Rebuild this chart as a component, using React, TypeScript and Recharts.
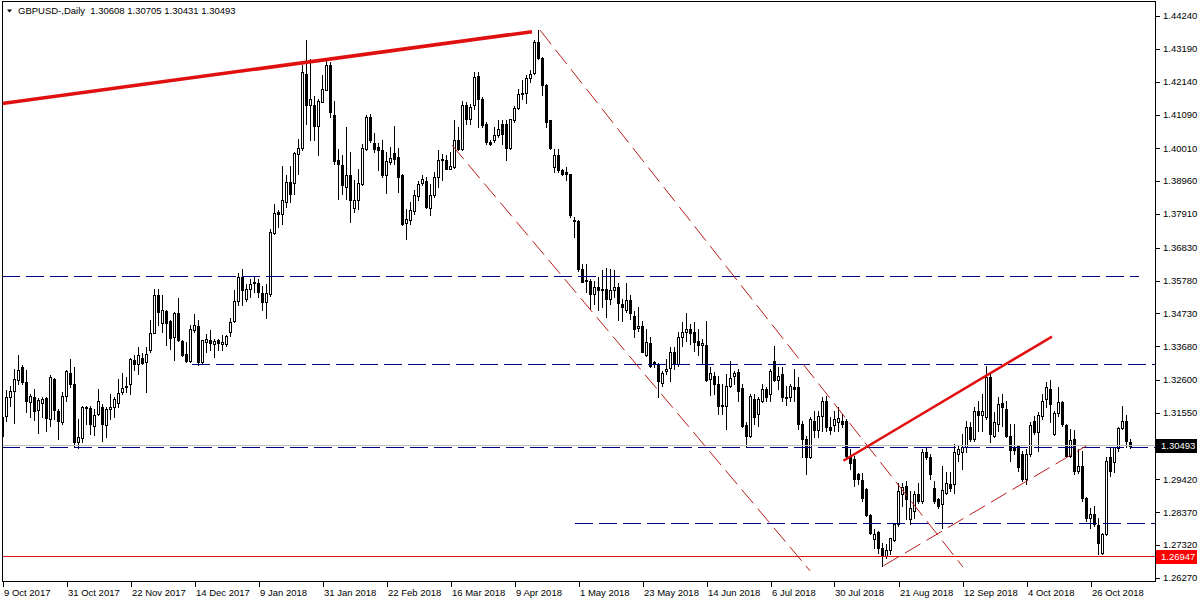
import React from 'react';
import { ComposedChart, Bar, XAxis, YAxis, ReferenceLine } from 'recharts';

// ---------- data ----------
const openPrices = [
  1.3082,1.3146,1.3205,1.3226,1.3261,1.3303,1.3255,1.3189,1.3207,1.3165,
  1.3186,1.3201,1.3136,1.3262,1.3162,1.3125,1.3209,1.3283,1.3248,1.3061,
  1.3074,1.3170,1.3171,1.3113,1.3150,1.3175,1.3116,1.3167,1.3175,1.3187,
  1.3221,1.3237,1.3248,1.3323,1.3312,1.3330,1.3317,1.3355,1.3411,1.3531,
  1.3443,1.3481,1.3449,1.3397,1.3475,1.3385,1.3344,1.3320,1.3419,1.3434,
  1.3317,1.3381,1.3389,1.3376,1.3389,1.3376,1.3374,1.3415,1.3449,1.3512,
  1.3590,1.3518,1.3552,1.3570,1.3571,1.3539,1.3509,1.3536,1.3730,1.3797,
  1.3792,1.3829,1.3893,1.3891,1.3984,1.4002,1.4237,1.4139,1.4141,1.4073,
  1.4150,1.4189,1.4267,1.4107,1.3963,1.3949,1.3877,1.3915,1.3811,1.3835,
  1.3888,1.4000,1.4102,1.4018,1.4005,1.3997,1.3915,1.3957,1.3987,1.3973,
  1.3915,1.3762,1.3773,1.3800,1.3848,1.3890,1.3896,1.3811,1.3851,1.3909,
  1.3966,1.3963,1.3936,1.3941,1.4027,1.3998,1.4141,1.4096,1.4141,1.4232,
  1.4158,1.4080,1.4020,1.4027,1.4045,1.4080,1.4080,1.4002,1.4091,1.4131,
  1.4179,1.4178,1.4227,1.4242,1.4342,1.4291,1.4203,1.4091,1.3941,1.3979,
  1.3933,1.3925,1.3918,1.3773,1.3769,1.3616,1.3581,1.3578,1.3536,1.3559,
  1.3550,1.3552,1.3520,1.3547,1.3559,1.3502,1.3485,1.3517,1.3466,1.3427,
  1.3434,1.3340,1.3379,1.3317,1.3312,1.3250,1.3290,1.3299,1.3349,1.3312,
  1.3397,1.3413,1.3424,1.3415,1.3384,1.3373,1.3373,1.3264,1.3273,1.3248,
  1.3181,1.3178,1.3242,1.3272,1.3287,1.3235,1.3117,1.3082,1.3200,1.3151,
  1.3194,1.3231,1.3215,1.3322,1.3260,1.3280,1.3205,1.3207,1.3239,1.3237,
  1.3119,1.3071,1.3015,1.3128,1.3100,1.3146,1.3194,1.3109,1.3117,1.3125,
  1.3130,1.3128,1.3015,1.3007,1.2959,1.2940,1.2911,1.2828,1.2751,1.2775,
  1.2724,1.2698,1.2717,1.2748,1.2799,1.2897,1.2922,1.2815,1.2842,1.2895,
  1.2874,1.3029,1.3015,1.2916,1.2879,1.2863,1.2900,1.2929,1.2929,1.3025,
  1.3029,1.3045,1.3111,1.3071,1.3162,1.3149,1.3141,1.3271,1.3082,1.3121,
  1.3186,1.3167,1.3082,1.3047,1.3050,1.3023,1.2943,1.3023,1.3130,1.3093,
  1.3146,1.3199,1.3231,1.3087,1.3154,1.3189,1.3117,1.3018,1.3071,1.2968,
  1.2986,1.2882,1.2820,1.2831,1.2797,1.2708,1.2767,1.3013,1.2997,1.3042,
  1.3106,1.3130,1.30608,
];
const highPrices = [
  1.3189,1.3229,1.3242,1.3296,1.3341,1.3307,1.3291,1.3216,1.3232,1.3201,
  1.3205,1.3205,1.3275,1.3266,1.3166,1.3221,1.3291,1.3326,1.3303,1.3136,
  1.3178,1.3178,1.3178,1.3168,1.3232,1.3184,1.3173,1.3216,1.3205,1.3264,
  1.3283,1.3269,1.3331,1.3339,1.3365,1.3346,1.3365,1.3451,1.3552,1.3552,
  1.3531,1.3483,1.3451,1.3477,1.3523,1.3387,1.3381,1.3435,1.3472,1.3451,
  1.3389,1.3408,1.3421,1.3392,1.3391,1.3403,1.3403,1.3458,1.3547,1.3602,
  1.3616,1.3568,1.3584,1.3590,1.3584,1.3560,1.3568,1.3744,1.3824,1.3805,
  1.3945,1.3915,1.3945,1.3989,1.4030,1.4267,1.4347,1.4288,1.4168,1.4160,
  1.4235,1.4283,1.4278,1.4152,1.4000,1.3979,1.4070,1.3989,1.3899,1.3934,
  1.4016,1.4109,1.4112,1.4050,1.4018,1.4027,1.3989,1.4005,1.4072,1.4002,
  1.3920,1.3808,1.3829,1.3867,1.3896,1.3915,1.3909,1.3888,1.3925,1.3995,
  1.3984,1.3979,1.3989,1.4091,1.4070,1.4152,1.4150,1.4144,1.4246,1.4246,
  1.4166,1.4086,1.4027,1.4070,1.4091,1.4093,1.4093,1.4096,1.4136,1.4192,
  1.4219,1.4235,1.4251,1.4347,1.4379,1.4294,1.4206,1.4093,1.4000,1.4000,
  1.3936,1.3941,1.3920,1.3781,1.3773,1.3632,1.3632,1.3584,1.3578,1.3591,
  1.3611,1.3619,1.3616,1.3611,1.3570,1.3520,1.3570,1.3531,1.3482,1.3493,
  1.3450,1.3424,1.3397,1.3322,1.3315,1.3290,1.3328,1.3365,1.3365,1.3413,
  1.3445,1.3475,1.3440,1.3445,1.3424,1.3392,1.3450,1.3301,1.3285,1.3274,
  1.3248,1.3280,1.3320,1.3290,1.3296,1.3248,1.3125,1.3215,1.3215,1.3205,
  1.3247,1.3237,1.3296,1.3370,1.3301,1.3301,1.3242,1.3247,1.3295,1.3269,
  1.3130,1.3082,1.3141,1.3162,1.3162,1.3205,1.3210,1.3141,1.3162,1.3173,
  1.3151,1.3135,1.3040,1.3018,1.2964,1.2964,1.2916,1.2833,1.2783,1.2778,
  1.2740,1.2735,1.2756,1.2804,1.2932,1.2932,1.2938,1.2906,1.2906,1.2932,
  1.3039,1.3045,1.3023,1.2938,1.2884,1.2986,1.2965,1.2965,1.3055,1.3050,
  1.3087,1.3130,1.3125,1.3173,1.3194,1.3215,1.3306,1.3285,1.3157,1.3205,
  1.3215,1.3194,1.3119,1.3119,1.3053,1.3034,1.3039,1.3125,1.3146,1.3157,
  1.3215,1.3253,1.3260,1.3162,1.3237,1.3194,1.3119,1.3103,1.3100,1.3039,
  1.3034,1.2887,1.2852,1.2858,1.2820,1.2772,1.3013,1.3042,1.3047,1.3111,
  1.3178,1.3149,1.30705,
];
const lowPrices = [
  1.3077,1.3130,1.3176,1.3123,1.3248,1.3248,1.3157,1.3141,1.3132,1.3090,
  1.3143,1.3098,1.3112,1.3136,1.3072,1.3118,1.3192,1.3237,1.3047,1.3043,
  1.3061,1.3120,1.3088,1.3085,1.3148,1.3064,1.3079,1.3136,1.3141,1.3173,
  1.3216,1.3221,1.3216,1.3291,1.3278,1.3312,1.3221,1.3349,1.3410,1.3435,
  1.3413,1.3371,1.3358,1.3323,1.3384,1.3336,1.3317,1.3317,1.3413,1.3307,
  1.3312,1.3349,1.3355,1.3333,1.3355,1.3355,1.3368,1.3400,1.3445,1.3499,
  1.3499,1.3513,1.3525,1.3541,1.3525,1.3483,1.3458,1.3530,1.3728,1.3749,
  1.3760,1.3813,1.3829,1.3856,1.3920,1.3995,1.4080,1.4027,1.4027,1.3979,
  1.4148,1.4187,1.4102,1.3952,1.3840,1.3856,1.3840,1.3765,1.3797,1.3808,
  1.3883,1.3995,1.4021,1.3989,1.3931,1.3909,1.3858,1.3952,1.3952,1.3861,
  1.3755,1.3712,1.3758,1.3792,1.3835,1.3883,1.3811,1.3787,1.3845,1.3877,
  1.3899,1.3934,1.3934,1.3939,1.3995,1.3995,1.4080,1.4080,1.4128,1.4070,
  1.4070,1.4016,1.4011,1.4021,1.4037,1.4016,1.3965,1.4000,1.4086,1.4128,
  1.4160,1.4146,1.4214,1.4240,1.4288,1.4171,1.4070,1.4000,1.3925,1.3925,
  1.3915,1.3901,1.3781,1.3717,1.3610,1.3573,1.3541,1.3488,1.3504,1.3485,
  1.3493,1.3461,1.3504,1.3525,1.3453,1.3450,1.3477,1.3456,1.3397,1.3418,
  1.3349,1.3338,1.3303,1.3303,1.3205,1.3242,1.3279,1.3258,1.3296,1.3306,
  1.3370,1.3386,1.3376,1.3354,1.3341,1.3312,1.3258,1.3212,1.3215,1.3151,
  1.3151,1.3103,1.3237,1.3248,1.3194,1.3109,1.3050,1.3077,1.3120,1.3114,
  1.3189,1.3194,1.3194,1.3258,1.3231,1.3194,1.3181,1.3194,1.3194,1.3103,
  1.3013,1.2959,1.3012,1.3077,1.3077,1.3098,1.3098,1.3087,1.3098,1.3098,
  1.3109,1.3007,1.2975,1.2922,1.2927,1.2874,1.2826,1.2767,1.2724,1.2708,
  1.2666,1.2692,1.2703,1.2746,1.2794,1.2858,1.2815,1.2799,1.2820,1.2868,
  1.2868,1.3007,1.2943,1.2868,1.2852,1.2788,1.2895,1.2906,1.2900,1.3002,
  1.2975,1.3029,1.3066,1.3066,1.3098,1.3098,1.3135,1.3061,1.3077,1.3098,
  1.3114,1.3077,1.3002,1.3023,1.2970,1.2938,1.2927,1.3018,1.3087,1.3034,
  1.3135,1.3173,1.3125,1.3085,1.3146,1.3114,1.3013,1.3013,1.2959,1.2964,
  1.2874,1.2810,1.2788,1.2794,1.2703,1.2703,1.2765,1.2954,1.2965,1.3034,
  1.3103,1.3047,1.30431,
];
const closePrices = [
  1.3141,1.3207,1.3226,1.3264,1.3291,1.3253,1.3192,1.3209,1.3160,1.3197,
  1.3200,1.3138,1.3269,1.3165,1.3128,1.3210,1.3288,1.3246,1.3061,1.3079,
  1.3175,1.3173,1.3120,1.3148,1.3194,1.3120,1.3168,1.3175,1.3198,1.3219,
  1.3235,1.3242,1.3328,1.3312,1.3341,1.3316,1.3344,1.3411,1.3531,1.3477,
  1.3483,1.3443,1.3395,1.3475,1.3387,1.3341,1.3320,1.3422,1.3435,1.3319,
  1.3387,1.3390,1.3378,1.3385,1.3378,1.3381,1.3400,1.3447,1.3512,1.3590,
  1.3547,1.3552,1.3568,1.3574,1.3541,1.3509,1.3539,1.3733,1.3794,1.3792,
  1.3835,1.3893,1.3856,1.3987,1.4002,1.4246,1.4139,1.4160,1.4073,1.4152,
  1.4192,1.4267,1.4118,1.3960,1.3952,1.3885,1.3915,1.3835,1.3835,1.3891,
  1.4002,1.4102,1.4027,1.4000,1.3997,1.3915,1.3960,1.3970,1.3968,1.3909,
  1.3760,1.3776,1.3803,1.3851,1.3888,1.3904,1.3813,1.3851,1.3909,1.3963,
  1.3962,1.3936,1.3944,1.4027,1.3998,1.4141,1.4094,1.4134,1.4230,1.4158,
  1.4075,1.4021,1.4015,1.4045,1.4062,1.4048,1.4002,1.4094,1.4131,1.4176,
  1.4174,1.4227,1.4240,1.4342,1.4291,1.4205,1.4086,1.4002,1.3979,1.3933,
  1.3918,1.3918,1.3787,1.3769,1.3616,1.3575,1.3576,1.3534,1.3559,1.3549,
  1.3547,1.3520,1.3547,1.3559,1.3506,1.3493,1.3517,1.3474,1.3424,1.3434,
  1.3351,1.3383,1.3306,1.3312,1.3258,1.3283,1.3296,1.3349,1.3312,1.3397,
  1.3413,1.3424,1.3410,1.3381,1.3373,1.3380,1.3260,1.3283,1.3248,1.3176,
  1.3176,1.3242,1.3267,1.3283,1.3224,1.3114,1.3082,1.3210,1.3141,1.3199,
  1.3231,1.3205,1.3290,1.3260,1.3274,1.3205,1.3203,1.3242,1.3231,1.3119,
  1.3071,1.3015,1.3135,1.3100,1.3146,1.3194,1.3109,1.3101,1.3135,1.3138,
  1.3119,1.3018,1.2995,1.2945,1.2945,1.2884,1.2828,1.2772,1.2767,1.2722,
  1.2698,1.2717,1.2754,1.2799,1.2906,1.2919,1.2879,1.2852,1.2895,1.2872,
  1.3029,1.3015,1.2961,1.2874,1.2858,1.2908,1.2932,1.2916,1.3029,1.3039,
  1.3047,1.3111,1.3071,1.3162,1.3149,1.3160,1.3271,1.3087,1.3125,1.3183,
  1.3173,1.3082,1.3036,1.3036,1.2981,1.2943,1.3023,1.3117,1.3093,1.3149,
  1.3194,1.3237,1.3183,1.3154,1.3189,1.3119,1.3018,1.3068,1.2970,1.2986,
  1.2882,1.2820,1.2831,1.2799,1.2740,1.2767,1.3002,1.2970,1.3045,1.3106,
  1.3130,1.3066,1.30493,
];

const dateTickIndex = [0, 16, 32, 48, 64, 80, 96, 112, 128, 144, 160, 176, 192, 208, 224, 240, 256, 272];
const dateTickLabels = [
  '9 Oct 2017', '31 Oct 2017', '22 Nov 2017', '14 Dec 2017', '9 Jan 2018', '31 Jan 2018',
  '22 Feb 2018', '16 Mar 2018', '9 Apr 2018', '1 May 2018', '23 May 2018', '14 Jun 2018',
  '6 Jul 2018', '30 Jul 2018', '21 Aug 2018', '12 Sep 2018', '4 Oct 2018', '26 Oct 2018',
];
const priceTicks = [
  1.4424, 1.4319, 1.4214, 1.4109, 1.4001, 1.3896, 1.3791, 1.3683, 1.3578,
  1.3473, 1.3368, 1.326, 1.3155, 1.2942, 1.2837, 1.2732, 1.2627,
];
const currentPrice = 1.30493;
const alertPrice = 1.26947;
const titleSymbol = 'GBPUSD-,Daily';
const titleOhlc = ['1.30608', '1.30705', '1.30431', '1.30493'];

// drawn objects, in (bar index, price)
const resistanceLine = [{ x: -0.25, y: 1.4144 }, { x: 132.25, y: 1.4374 }];
const risingLine = [{ x: 210.1, y: 1.3002 }, { x: 262.25, y: 1.3399 }];
const channelUpper = [{ x: 134.25, y: 1.4379 }, { x: 240, y: 1.2662 }];
const channelLower = [{ x: 112.25, y: 1.4011 }, { x: 201.75, y: 1.265 }];
const risingDashed = [{ x: 220.1, y: 1.2666 }, { x: 270.9, y: 1.305 }];
const levelPrices = [1.3592, 1.331, 1.3043, 1.28];
const levelFrom = [-0.25, 47.25, -0.25, 143];
const levelTo = [284, 288, 288, 288];

const X_DOMAIN: [number, number] = [-0.25, 288];
const Y_DOMAIN: [number, number] = [1.26174, 1.4472];

const data = openPrices.map((o, i) => ({
  i,
  open: o,
  high: highPrices[i],
  low: lowPrices[i],
  close: closePrices[i],
  range: [lowPrices[i], highPrices[i]],
}));

const FONT = "'Liberation Sans', Arial, sans-serif";

const Candle = (props: any) => {
  const { x, y, width, height, payload } = props;
  if (x == null || !payload) return null;
  const cx = Math.floor(x + width / 2);
  const { open, close, high, low } = payload;
  const span = high - low;
  const py = (p: number) => (span > 0 ? y + ((high - p) / span) * height : y);
  const top = Math.round(py(Math.max(open, close)));
  const bot = Math.round(py(Math.min(open, close)));
  const h = Math.max(bot - top, 1);
  const bull = close >= open;
  return (
    <g shapeRendering="crispEdges">
      <line x1={cx + 0.5} x2={cx + 0.5} y1={Math.round(y)} y2={Math.round(y + height) + 1} stroke="#000" strokeWidth={1} />
      {bull ? (
        <rect x={cx - 0.5} y={top + 0.5} width={2} height={h} fill="#fff" stroke="#000" strokeWidth={1} />
      ) : (
        <rect x={cx - 1} y={top} width={3} height={h + 1} fill="#000" />
      )}
    </g>
  );
};

const DateTick = (props: any) => {
  const { x, y, payload } = props;
  const k = dateTickIndex.indexOf(payload.value);
  const xi = Math.floor(x);
  return (
    <g>
      <line x1={xi + 0.5} x2={xi + 0.5} y1={y} y2={y + 6} stroke="#000" shapeRendering="crispEdges" />
      <text x={xi + 1} y={y + 15} fontSize={9.5} fontFamily={FONT} fill="#000" textAnchor="start">
        {k >= 0 ? dateTickLabels[k] : ''}
      </text>
    </g>
  );
};

const PriceTick = (props: any) => {
  const { x, y, payload } = props;
  const v = payload.value as number;
  const label = v.toFixed(5);
  if (Math.abs(v - currentPrice) < 1e-7 || Math.abs(v - alertPrice) < 1e-7) {
    const isCur = Math.abs(v - currentPrice) < 1e-7;
    return (
      <g>
        <rect x={x + 1} y={Math.round(y) - 7} width={41} height={14} fill={isCur ? '#000' : '#ff0000'} shapeRendering="crispEdges" />
        <text x={x + 6} y={y} dy="0.35em" fontSize={9.5} fontFamily={FONT} fill="#fff">{label}</text>
      </g>
    );
  }
  const yi = Math.round(y);
  return (
    <g>
      <line x1={x + 1} x2={x + 5} y1={yi + 0.5} y2={yi + 0.5} stroke="#000" shapeRendering="crispEdges" />
      <text x={x + 8} y={y} dy="0.35em" fontSize={9.5} fontFamily={FONT} fill="#000">{label}</text>
    </g>
  );
};

export default function App() {
  return (
    <div style={{ position: 'absolute', left: 0, top: 0, width: 1200, height: 600, background: '#fff' }}>
      <ComposedChart width={1200} height={600} data={data} margin={{ top: 1, right: 0, bottom: 0, left: 2 }}>
        <XAxis
          dataKey="i"
          type="number"
          domain={X_DOMAIN}
          allowDataOverflow
          ticks={dateTickIndex}
          interval={0}
          height={19}
          axisLine={false}
          tickLine={false}
          tickSize={0}
          tickMargin={0}
          tick={<DateTick />}
        />
        <YAxis
          orientation="right"
          type="number"
          domain={Y_DOMAIN}
          allowDataOverflow
          ticks={[...priceTicks, currentPrice, alertPrice]}
          interval={0}
          width={45}
          axisLine={false}
          tickLine={false}
          tickSize={0}
          tickMargin={0}
          tick={<PriceTick />}
        />
        <ReferenceLine y={currentPrice} stroke="#c0c0c0" strokeWidth={1} shapeRendering="crispEdges" />
        <ReferenceLine y={alertPrice} stroke="#e01010" strokeWidth={1} shapeRendering="crispEdges" />
        {levelPrices.map((p, k) => (
          <ReferenceLine
            key={'lvl' + k}
            segment={[{ x: levelFrom[k], y: p }, { x: levelTo[k], y: p }]}
            stroke="#000080"
            strokeWidth={1}
            strokeDasharray="18 6"
            shapeRendering="crispEdges"
            ifOverflow="hidden"
          />
        ))}
        <Bar dataKey="range" barSize={3} isAnimationActive={false} shape={(p: any) => <Candle {...p} />} />
        <ReferenceLine segment={channelUpper} stroke="#b81c1c" strokeWidth={1} strokeDasharray="18 7" ifOverflow="hidden" />
        <ReferenceLine segment={channelLower} stroke="#b81c1c" strokeWidth={1} strokeDasharray="18 7" ifOverflow="hidden" />
        <ReferenceLine segment={risingDashed} stroke="#b81c1c" strokeWidth={1} strokeDasharray="18 7" ifOverflow="hidden" />
        <ReferenceLine segment={resistanceLine} stroke="#e01010" strokeWidth={3.5} ifOverflow="hidden" />
        <ReferenceLine segment={risingLine} stroke="#e01010" strokeWidth={2.5} ifOverflow="hidden" />
      </ComposedChart>
      <div
        style={{
          position: 'absolute', left: 2, top: 1, width: 1154, height: 581,
          border: '1px solid #000', boxSizing: 'border-box', pointerEvents: 'none',
        }}
      />
      <div
        style={{
          position: 'absolute', left: 6, top: 4, height: 14, display: 'flex', alignItems: 'center',
          fontFamily: FONT, fontSize: 9.5, color: '#000', whiteSpace: 'pre', lineHeight: '14px',
        }}
      >
        <svg width={12} height={14} style={{ marginRight: 0 }}>
          <polygon points="1,5.5 6,5.5 3.5,8.5" fill="#000" />
        </svg>
        <span>{titleSymbol + '  ' + titleOhlc.join(' ')}</span>
      </div>
    </div>
  );
}
